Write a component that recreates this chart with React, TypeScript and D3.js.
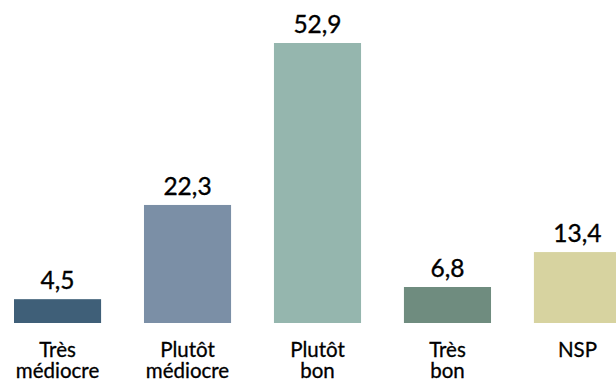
import React from "react";
import * as d3 from "d3";

const categories = ["Très médiocre", "Plutôt médiocre", "Plutôt bon", "Très bon", "NSP"];
const labelLines = [["Très", "médiocre"], ["Plutôt", "médiocre"], ["Plutôt", "bon"], ["Très", "bon"], ["NSP"]];
const values = [4.5, 22.3, 52.9, 6.8, 13.4];
const valueLabels = ["4,5", "22,3", "52,9", "6,8", "13,4"];
const colors = ["#3f5f78", "#7b8fa6", "#95b6ae", "#6f8c7f", "#d7d3a0"];

const W = 616;
const H = 379;

export default function App() {
  const x = d3.scaleBand<string>().domain(categories).range([14, 621]).paddingInner(0.33).paddingOuter(0).align(0);
  const y = d3.scaleLinear().domain([0, 52.9]).range([323, 43]);
  const font = "'Source Sans Pro', Lato, 'Open Sans', sans-serif";
  return (
    <svg width={W} height={H} style={{ position: "absolute", left: 0, top: 0, background: "#fff" }} fontFamily={font}>
      {categories.map((c, i) => {
        const bx = x(c)!;
        const cx = bx + x.bandwidth() / 2;
        return (
          <g key={c}>
            <rect x={bx} y={y(values[i])} width={x.bandwidth()} height={y(0) - y(values[i])} fill={colors[i]} />
            <text x={cx} y={y(values[i]) - 10} textAnchor="middle" fontSize={24.5} fill="#000" stroke="#000" strokeWidth={0.35}>{valueLabels[i]}</text>
            <text x={cx} y={357} textAnchor="middle" fontSize={20.5} fill="#000" stroke="#000" strokeWidth={0.3}>
              {labelLines[i].map((l, j) => (
                <tspan key={j} x={cx} dy={j === 0 ? 0 : 20.5}>{l}</tspan>
              ))}
            </text>
          </g>
        );
      })}
    </svg>
  );
}
